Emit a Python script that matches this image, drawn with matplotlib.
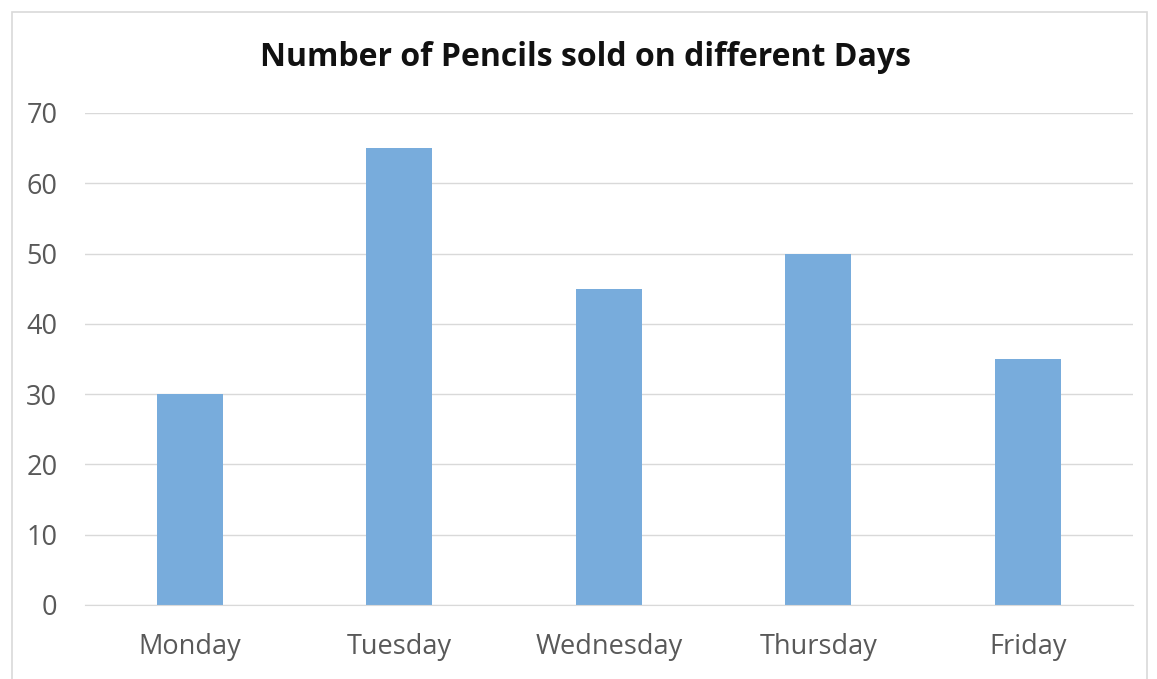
import matplotlib.pyplot as plt
from matplotlib.patches import Rectangle

# pencils sold per day
days = ["Monday", "Tuesday", "Wednesday", "Thursday", "Friday"]
pencils = [30, 65, 45, 50, 35]
yticks = [0, 10, 20, 30, 40, 50, 60, 70]

plt.rcParams['font.family'] = ['Open Sans', 'DejaVu Sans']

fig = plt.figure(figsize=(11.57, 6.79), dpi=100)
ax = fig.add_axes([0.0735, 0.109, 0.9055, 0.7246])

# outer chart border
fig.patches.append(Rectangle((12 / 1157, -0.05), 1135 / 1157, 1.05 - 12 / 679,
                             transform=fig.transFigure, fill=False,
                             edgecolor="#d9d9d9", linewidth=1.2))

ax.bar(days, pencils, width=0.315, color="#78acdc", zorder=2)

ax.set_ylim(0, 70)
ax.set_xlim(-0.5, 4.5)
ax.set_yticks(yticks)
ax.grid(axis="y", color="#d9d9d9", linewidth=1, zorder=0)
for s in ["top", "right", "left"]:
    ax.spines[s].set_visible(False)
ax.spines["bottom"].set_color("#d9d9d9")
ax.tick_params(axis="both", length=0, labelsize=19.5, labelcolor="#595959")
ax.tick_params(axis="x", pad=20)
ax.tick_params(axis="y", pad=20)

fig.text(0.506, 0.916, "Number of Pencils sold on different Days",
         ha="center", va="center", fontsize=23, fontweight="bold", color="#111111")

fig.savefig("out.png", dpi=100)
